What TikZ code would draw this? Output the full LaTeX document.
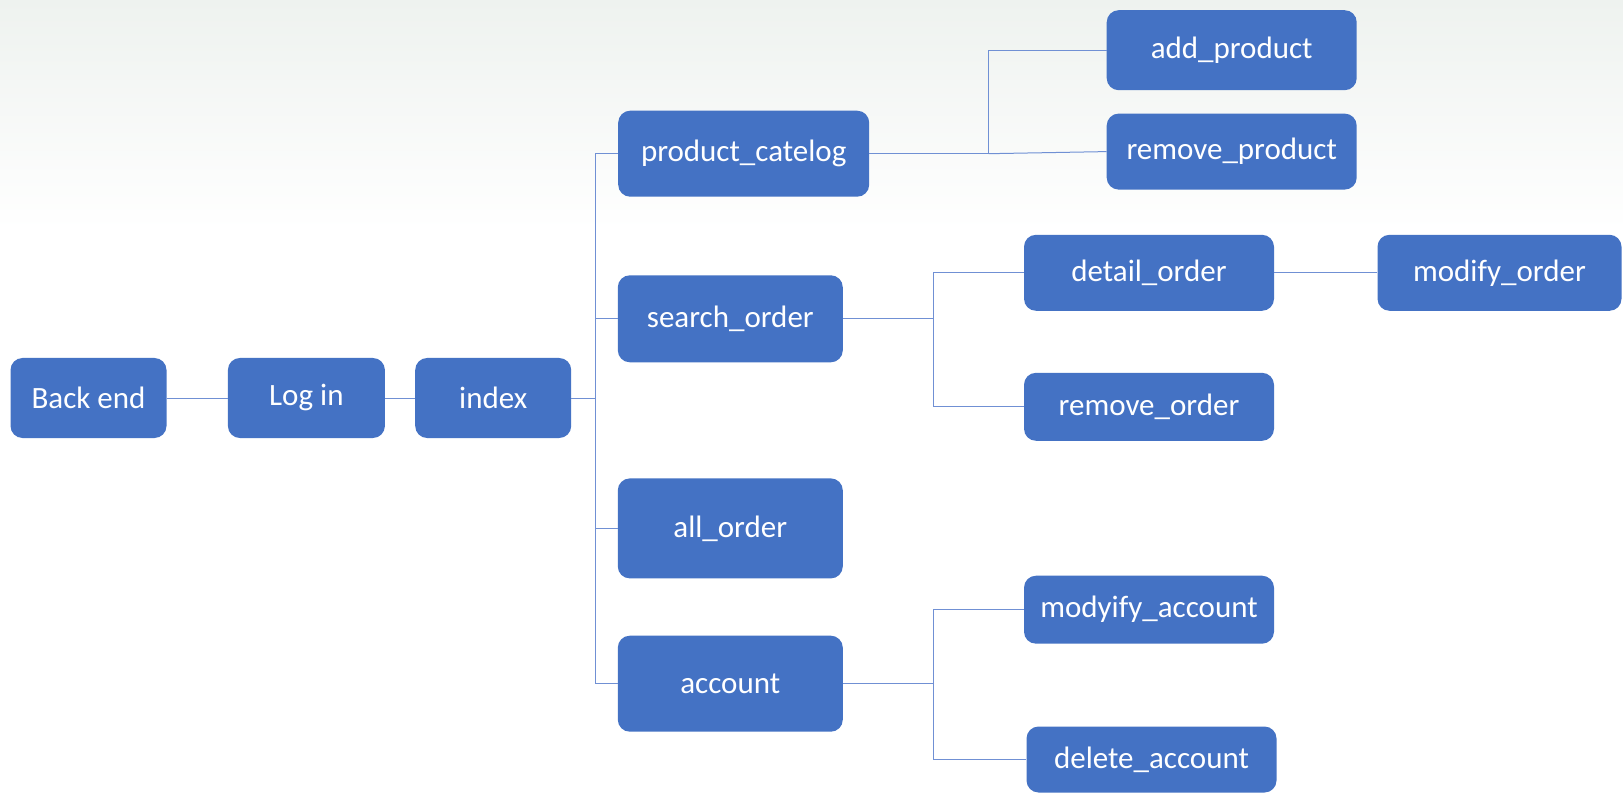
\documentclass[tikz,border=0pt]{standalone}
\usepackage{fontspec}
\setmainfont{Carlito}
\definecolor{boxblue}{HTML}{4472C4}
\definecolor{linkblue}{HTML}{7090D4}
\definecolor{topbg}{HTML}{EEF2EF}
\begin{document}
\begin{tikzpicture}[x=1pt,y=-1pt,
  box/.style={draw=none,fill=boxblue,rounded corners=12pt,text=white,inner sep=0pt,
    font=\fontsize{31}{36}\selectfont},
  link/.style={draw=linkblue,line width=1pt}]
\useasboundingbox (0,0) rectangle (1623,794);
\shade[top color=topbg,bottom color=white] (0,0) rectangle (1623,230);
\fill[white] (0,230) rectangle (1623,794);
% nodes
\node[box,minimum width=156pt,minimum height=80pt] (be) at (88.5,398) {Back end};
\node[box,minimum width=157pt,minimum height=80pt] (li) at (306.4,398) {Log in};
\node[box,minimum width=156pt,minimum height=80pt] (ix) at (493.2,398) {index};
\node[box,minimum width=251pt,minimum height=86pt] (pc) at (743.7,153.7) {product\_catelog};
\node[box,minimum width=225pt,minimum height=87pt] (so) at (730.3,318.8) {search\_order};
\node[box,minimum width=225pt,minimum height=100pt] (ao) at (730.3,528.4) {all\_order};
\node[box,minimum width=225pt,minimum height=96pt] (ac) at (730.3,683.7) {account};
\node[box,minimum width=250pt,minimum height=80pt] (ap) at (1231.7,50.2) {add\_product};
\node[box,minimum width=250pt,minimum height=76pt] (rp) at (1231.7,151.6) {remove\_product};
\node[box,minimum width=250pt,minimum height=76pt] (do) at (1149,272.8) {detail\_order};
\node[box,minimum width=250pt,minimum height=68pt] (ro) at (1149,406.8) {remove\_order};
\node[box,minimum width=244pt,minimum height=76pt] (mo) at (1499.5,272.8) {modify\_order};
\node[box,minimum width=250pt,minimum height=68pt] (ma) at (1149,609.7) {modyify\_account};
\node[box,minimum width=250pt,minimum height=66pt] (da) at (1151.5,759.5) {delete\_account};
% connectors
\draw[link] (be.east) -- (li.west);
\draw[link] (li.east) -- (ix.west);
\coordinate (trunk) at (595.2,398);
\draw[link] (ix.east) -- (trunk);
\draw[link] (trunk) |- (pc.west);
\draw[link] (trunk) |- (so.west);
\draw[link] (trunk) |- (ao.west);
\draw[link] (trunk) |- (ac.west);
\coordinate (pcb) at (988.5,153.7);
\draw[link] (pc.east) -- (pcb) |- (ap.west);
\draw[link] (pcb) -- (rp.west);
\coordinate (sob) at (933.7,318.8);
\draw[link] (so.east) -- (sob) |- (do.west);
\draw[link] (sob) |- (ro.west);
\draw[link] (do.east) -- (mo.west);
\coordinate (acb) at (933.7,683.7);
\draw[link] (ac.east) -- (acb) |- (ma.west);
\draw[link] (acb) |- (da.west);
\end{tikzpicture}
\end{document}
